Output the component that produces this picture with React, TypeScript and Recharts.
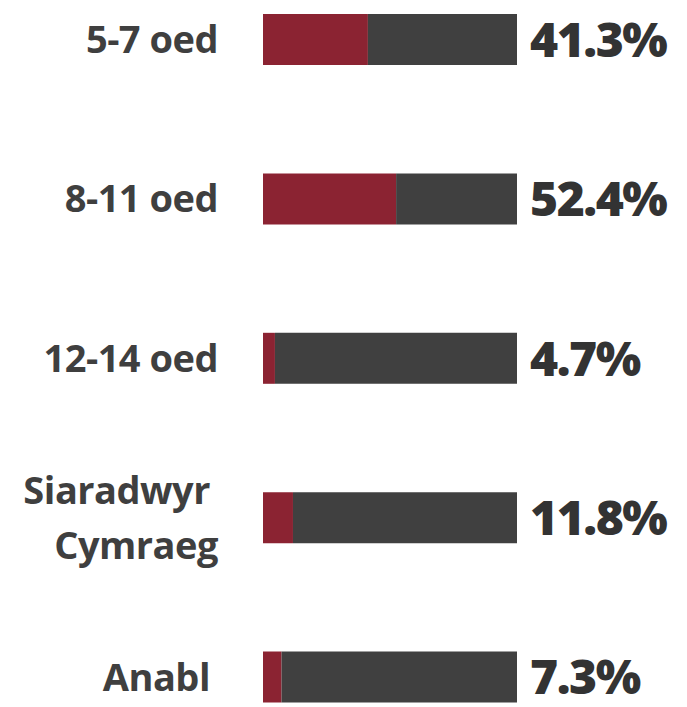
import { BarChart, Bar, XAxis, YAxis, LabelList } from "recharts";

const groups = ["5-7 oed", "8-11 oed", "12-14 oed", "Siaradwyr Cymraeg", "Anabl"];
const shares = [41.3, 52.4, 4.7, 11.8, 7.3];

const RED = "#8b2332";
const GREY = "#404040";

const data = groups.map((name, i) => ({
  name,
  share: shares[i],
  rest: 100 - shares[i],
}));

// label lines; lines that end short in the original get a little nudge
const splitLabel = (v: string): string[] =>
  v === "Siaradwyr Cymraeg" ? ["Siaradwyr", "Cymraeg"] : [v];
const shortEnd = ["Siaradwyr", "Anabl"];

const GroupTick = (props: any) => {
  const { x, y, payload } = props;
  const words = splitLabel(payload.value);
  const lineH = 55;
  const start = -((words.length - 1) * lineH) / 2;
  return (
    <text
      x={x}
      y={y}
      textAnchor="end"
      fill="#3f3f3f"
      fontFamily="'Open Sans', sans-serif"
      fontWeight={700}
      fontSize={38}
      letterSpacing={-0.5}
    >
      {words.map((w, i) => (
        <tspan key={w} x={shortEnd.includes(w) ? x - 8 : x} y={y + start + i * lineH} dy="0.35em">
          {w}
        </tspan>
      ))}
    </text>
  );
};

const ShareLabel = (props: any) => {
  const { x, y, width, height, value } = props;
  return (
    <text
      x={x + width + 13}
      y={y + height / 2}
      dy="0.36em"
      fill="#333333"
      fontFamily="'Open Sans', sans-serif"
      fontWeight={800}
      fontSize={48}
      letterSpacing={-1.5}
    >
      {value}%
    </text>
  );
};

export default function App() {
  return (
    <div
      style={{
        position: "absolute",
        left: 0,
        top: 0,
        width: 687,
        height: 707,
        overflow: "hidden",
        background: "#fff",
      }}
    >
      <div style={{ position: "absolute", left: 0, top: -40 }}>
        <BarChart
          width={687}
          height={797}
          data={data}
          layout="vertical"
          margin={{ top: 0, right: 170, bottom: 0, left: 0 }}
          barSize={51}
        >
          <XAxis type="number" domain={[0, 100]} hide />
          <YAxis
            type="category"
            dataKey="name"
            width={263}
            axisLine={false}
            tickLine={false}
            tickSize={0}
            tickMargin={45}
            interval={0}
            tick={<GroupTick />}
          />
          <Bar dataKey="share" stackId="a" fill={RED} isAnimationActive={false} />
          <Bar dataKey="rest" stackId="a" fill={GREY} isAnimationActive={false}>
            <LabelList dataKey="share" content={<ShareLabel />} />
          </Bar>
        </BarChart>
      </div>
    </div>
  );
}
